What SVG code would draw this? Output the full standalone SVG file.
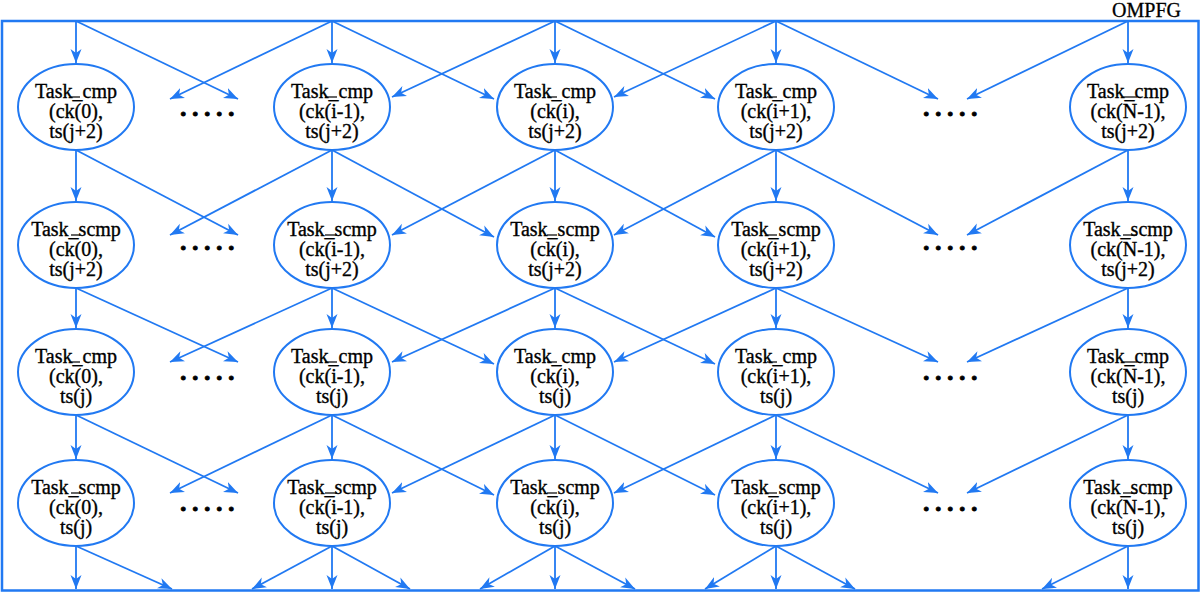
<svg xmlns="http://www.w3.org/2000/svg" width="1201" height="592" viewBox="0 0 1201 592">
  <style>
    .frame { fill: none; stroke: #2179f2; stroke-width: 2.5; }
    .node ellipse { fill: #ffffff; stroke: #2179f2; stroke-width: 2; }
    .node text { font-family: "Liberation Serif", "Times New Roman", serif; font-size: 20px; fill: #000000; stroke: #000000; stroke-width: 0.35; text-anchor: middle; }
    .node line { stroke: #000000; stroke-width: 1.2; }
    .dots { font-family: "Liberation Serif", serif; font-size: 26px; font-weight: bold; fill: #000000; stroke: #000000; stroke-width: 0.8; text-anchor: middle; letter-spacing: 5.5px; }
    .title { font-family: "Liberation Serif", serif; font-size: 20px; fill: #000000; stroke: #000000; stroke-width: 0.3; text-anchor: end; }
    #connectors path { fill: none; stroke: #2179f2; stroke-width: 1.8; marker-end: url(#arrow); }
  </style>
  <defs>
    <marker id="arrow" markerUnits="userSpaceOnUse" markerWidth="15" markerHeight="12" viewBox="0 -6 15 12" refX="14" refY="0" orient="auto">
      <path d="M0,-5.5 L14,0 L0,5.5 L4,0 z" fill="#2179f2"/>
    </marker>
  </defs>

  <rect width="1201" height="592" fill="#ffffff"/>

  <!-- enclosing frame -->
  <rect class="frame" x="2" y="21" width="1196.5" height="569.5"/>
  <text class="title" x="1181" y="17">OMPFG</text>

  <!-- connectors: columns at x 76, 332, 555, 776, 1128; rows at y 107, 245, 372, 503 -->
  <g id="connectors">
    <!-- into row 1 (from frame top) -->
    <path d="M76,21 L76,63"/>
    <path d="M76,21 L238,99"/>
    <path d="M332,21 L332,63"/>
    <path d="M332,21 L170,99"/>
    <path d="M332,21 L494,99"/>
    <path d="M555,21 L555,63"/>
    <path d="M555,21 L392,97"/>
    <path d="M555,21 L715,99"/>
    <path d="M776,21 L776,63"/>
    <path d="M776,21 L614,97"/>
    <path d="M776,21 L938,99"/>
    <path d="M1128,21 L1128,63"/>
    <path d="M1128,21 L967,99"/>

    <!-- into row 2 -->
    <path d="M76,150 L76,201"/>
    <path d="M76,150 L238,235"/>
    <path d="M332,150 L332,201"/>
    <path d="M332,150 L170,235"/>
    <path d="M332,150 L494,237"/>
    <path d="M555,150 L392,235"/>
    <path d="M555,150 L555,201"/>
    <path d="M555,150 L715,237"/>
    <path d="M776,150 L614,235"/>
    <path d="M776,150 L776,201"/>
    <path d="M776,150 L938,235"/>
    <path d="M1128,150 L1128,201"/>
    <path d="M1128,150 L967,235"/>

    <!-- into row 3 -->
    <path d="M76,288 L76,328"/>
    <path d="M76,288 L238,362"/>
    <path d="M332,288 L332,328"/>
    <path d="M332,288 L170,362"/>
    <path d="M332,288 L494,364"/>
    <path d="M555,288 L392,362"/>
    <path d="M555,288 L555,328"/>
    <path d="M555,288 L715,364"/>
    <path d="M776,288 L614,362"/>
    <path d="M776,288 L776,328"/>
    <path d="M776,288 L938,362"/>
    <path d="M1128,288 L1128,328"/>
    <path d="M1128,288 L967,362"/>

    <!-- into row 4 -->
    <path d="M76,415 L76,459"/>
    <path d="M76,415 L238,493"/>
    <path d="M332,415 L332,459"/>
    <path d="M332,415 L170,493"/>
    <path d="M332,415 L494,495"/>
    <path d="M555,415 L392,493"/>
    <path d="M555,415 L555,459"/>
    <path d="M555,415 L715,495"/>
    <path d="M776,415 L614,493"/>
    <path d="M776,415 L776,459"/>
    <path d="M776,415 L938,493"/>
    <path d="M1128,415 L1128,459"/>
    <path d="M1128,415 L967,493"/>

    <!-- out of row 4 to frame bottom -->
    <path d="M76,546 L76,589"/>
    <path d="M76,546 L172,589"/>
    <path d="M332,546 L252,589"/>
    <path d="M332,546 L332,589"/>
    <path d="M332,546 L410,589"/>
    <path d="M555,546 L480,589"/>
    <path d="M555,546 L555,589"/>
    <path d="M555,546 L635,589"/>
    <path d="M776,546 L705,589"/>
    <path d="M776,546 L776,589"/>
    <path d="M776,546 L855,589"/>
    <path d="M1128,546 L1042,589"/>
    <path d="M1128,546 L1128,589"/>
  </g>

  <!-- ellipsis markers between columns -->
  <g id="dots">
    <text class="dots" x="210" y="116">.....</text>
    <text class="dots" x="953" y="116">.....</text>
    <text class="dots" x="210" y="250">.....</text>
    <text class="dots" x="953" y="250">.....</text>
    <text class="dots" x="210" y="380">.....</text>
    <text class="dots" x="953" y="380">.....</text>
    <text class="dots" x="210" y="511">.....</text>
    <text class="dots" x="953" y="511">.....</text>
  </g>

  <!-- row 1: Task_cmp, ts(j+2) -->
  <g id="cmp_0_j2" class="node">
    <ellipse cx="76" cy="107" rx="58" ry="43"/>
    <text x="76" y="98">Task_cmp</text>
    <text x="76" y="118">(ck(0),</text>
    <line x1="71" y1="97" x2="80" y2="97"/>
    <text x="76" y="138">ts(j+2)</text>
  </g>
  <g id="cmp_im1_j2" class="node">
    <ellipse cx="332" cy="107" rx="58" ry="43"/>
    <text x="332" y="98">Task_cmp</text>
    <text x="332" y="118">(ck(i-1),</text>
    <line x1="325" y1="97" x2="337" y2="97"/>
    <text x="332" y="138">ts(j+2)</text>
  </g>
  <g id="cmp_i_j2" class="node">
    <ellipse cx="555" cy="107" rx="58" ry="43"/>
    <text x="555" y="98">Task_cmp</text>
    <text x="555" y="118">(ck(i),</text>
    <line x1="547" y1="97" x2="557" y2="97"/>
    <text x="555" y="138">ts(j+2)</text>
  </g>
  <g id="cmp_ip1_j2" class="node">
    <ellipse cx="776" cy="107" rx="58" ry="43"/>
    <text x="776" y="98">Task_cmp</text>
    <text x="776" y="118">(ck(i+1),</text>
    <line x1="767" y1="97" x2="777" y2="97"/>
    <text x="776" y="138">ts(j+2)</text>
  </g>
  <g id="cmp_nm1_j2" class="node">
    <ellipse cx="1128" cy="107" rx="58" ry="43"/>
    <text x="1128" y="98">Task_cmp</text>
    <text x="1128" y="118">(ck(N-1),</text>
    <line x1="1123" y1="97" x2="1137" y2="97"/>
    <text x="1128" y="138">ts(j+2)</text>
  </g>

  <!-- row 2: Task_scmp, ts(j+2) -->
  <g id="scmp_0_j2" class="node">
    <ellipse cx="76" cy="245" rx="58" ry="43"/>
    <text x="76" y="236">Task_scmp</text>
    <text x="76" y="256">(ck(0),</text>
    <line x1="71" y1="235" x2="80" y2="235"/>
    <text x="76" y="276">ts(j+2)</text>
  </g>
  <g id="scmp_im1_j2" class="node">
    <ellipse cx="332" cy="245" rx="58" ry="43"/>
    <text x="332" y="236">Task_scmp</text>
    <text x="332" y="256">(ck(i-1),</text>
    <line x1="325" y1="235" x2="337" y2="235"/>
    <text x="332" y="276">ts(j+2)</text>
  </g>
  <g id="scmp_i_j2" class="node">
    <ellipse cx="555" cy="245" rx="58" ry="43"/>
    <text x="555" y="236">Task_scmp</text>
    <text x="555" y="256">(ck(i),</text>
    <line x1="547" y1="235" x2="557" y2="235"/>
    <text x="555" y="276">ts(j+2)</text>
  </g>
  <g id="scmp_ip1_j2" class="node">
    <ellipse cx="776" cy="245" rx="58" ry="43"/>
    <text x="776" y="236">Task_scmp</text>
    <text x="776" y="256">(ck(i+1),</text>
    <line x1="767" y1="235" x2="777" y2="235"/>
    <text x="776" y="276">ts(j+2)</text>
  </g>
  <g id="scmp_nm1_j2" class="node">
    <ellipse cx="1128" cy="245" rx="58" ry="43"/>
    <text x="1128" y="236">Task_scmp</text>
    <text x="1128" y="256">(ck(N-1),</text>
    <line x1="1123" y1="235" x2="1137" y2="235"/>
    <text x="1128" y="276">ts(j+2)</text>
  </g>

  <!-- row 3: Task_cmp, ts(j) -->
  <g id="cmp_0_j" class="node">
    <ellipse cx="76" cy="372" rx="58" ry="43"/>
    <text x="76" y="363">Task_cmp</text>
    <text x="76" y="383">(ck(0),</text>
    <line x1="71" y1="362" x2="80" y2="362"/>
    <text x="76" y="403">ts(j)</text>
  </g>
  <g id="cmp_im1_j" class="node">
    <ellipse cx="332" cy="372" rx="58" ry="43"/>
    <text x="332" y="363">Task_cmp</text>
    <text x="332" y="383">(ck(i-1),</text>
    <line x1="325" y1="362" x2="337" y2="362"/>
    <text x="332" y="403">ts(j)</text>
  </g>
  <g id="cmp_i_j" class="node">
    <ellipse cx="555" cy="372" rx="58" ry="43"/>
    <text x="555" y="363">Task_cmp</text>
    <text x="555" y="383">(ck(i),</text>
    <line x1="547" y1="362" x2="557" y2="362"/>
    <text x="555" y="403">ts(j)</text>
  </g>
  <g id="cmp_ip1_j" class="node">
    <ellipse cx="776" cy="372" rx="58" ry="43"/>
    <text x="776" y="363">Task_cmp</text>
    <text x="776" y="383">(ck(i+1),</text>
    <line x1="767" y1="362" x2="777" y2="362"/>
    <text x="776" y="403">ts(j)</text>
  </g>
  <g id="cmp_nm1_j" class="node">
    <ellipse cx="1128" cy="372" rx="58" ry="43"/>
    <text x="1128" y="363">Task_cmp</text>
    <text x="1128" y="383">(ck(N-1),</text>
    <line x1="1123" y1="362" x2="1137" y2="362"/>
    <text x="1128" y="403">ts(j)</text>
  </g>

  <!-- row 4: Task_scmp, ts(j) -->
  <g id="scmp_0_j" class="node">
    <ellipse cx="76" cy="503" rx="58" ry="43"/>
    <text x="76" y="494">Task_scmp</text>
    <text x="76" y="514">(ck(0),</text>
    <line x1="71" y1="493" x2="80" y2="493"/>
    <text x="76" y="534">ts(j)</text>
  </g>
  <g id="scmp_im1_j" class="node">
    <ellipse cx="332" cy="503" rx="58" ry="43"/>
    <text x="332" y="494">Task_scmp</text>
    <text x="332" y="514">(ck(i-1),</text>
    <line x1="325" y1="493" x2="337" y2="493"/>
    <text x="332" y="534">ts(j)</text>
  </g>
  <g id="scmp_i_j" class="node">
    <ellipse cx="555" cy="503" rx="58" ry="43"/>
    <text x="555" y="494">Task_scmp</text>
    <text x="555" y="514">(ck(i),</text>
    <line x1="547" y1="493" x2="557" y2="493"/>
    <text x="555" y="534">ts(j)</text>
  </g>
  <g id="scmp_ip1_j" class="node">
    <ellipse cx="776" cy="503" rx="58" ry="43"/>
    <text x="776" y="494">Task_scmp</text>
    <text x="776" y="514">(ck(i+1),</text>
    <line x1="767" y1="493" x2="777" y2="493"/>
    <text x="776" y="534">ts(j)</text>
  </g>
  <g id="scmp_nm1_j" class="node">
    <ellipse cx="1128" cy="503" rx="58" ry="43"/>
    <text x="1128" y="494">Task_scmp</text>
    <text x="1128" y="514">(ck(N-1),</text>
    <line x1="1123" y1="493" x2="1137" y2="493"/>
    <text x="1128" y="534">ts(j)</text>
  </g>
</svg>
